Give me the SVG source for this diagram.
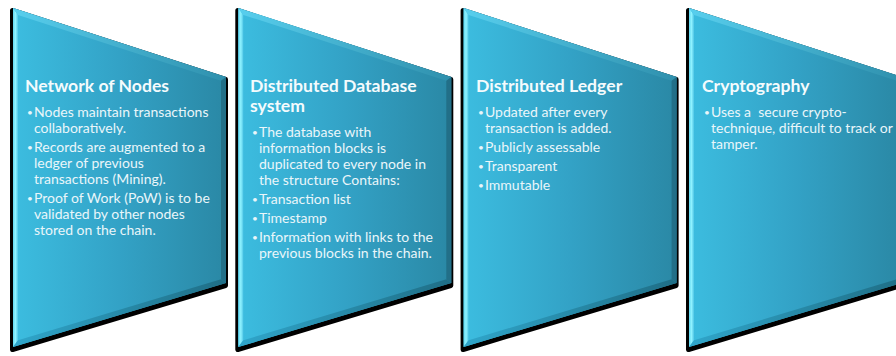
<svg xmlns="http://www.w3.org/2000/svg" xmlns:xlink="http://www.w3.org/1999/xlink" width="896" height="356" viewBox="0 0 896 356">
<defs>
<linearGradient id="face" x1="0" y1="0" x2="1" y2="0">
<stop offset="0" stop-color="#3cbde0"/>
<stop offset="0.5" stop-color="#33a2c6"/>
<stop offset="1" stop-color="#2a88a5"/>
</linearGradient>
<linearGradient id="leftBevel" x1="0" y1="0" x2="1" y2="0">
<stop offset="0" stop-color="#62d8f2"/>
<stop offset="0.5" stop-color="#8ff2ff"/>
<stop offset="1" stop-color="#4fc6e6"/>
</linearGradient>
<linearGradient id="topBevel" x1="0" y1="0" x2="1" y2="0">
<stop offset="0" stop-color="#58cfee"/>
<stop offset="1" stop-color="#2f90ad"/>
</linearGradient>
<linearGradient id="botBevel" x1="0" y1="0" x2="1" y2="0">
<stop offset="0" stop-color="#2fa6cb"/>
<stop offset="1" stop-color="#1f6e86"/>
</linearGradient>
<filter id="soft" x="-5%" y="-5%" width="110%" height="110%">
<feGaussianBlur stdDeviation="0.7"/>
</filter>
<g id="shape">
<polygon points="0,0 213,69 213,275 0,339" fill="#000" stroke="#000" stroke-width="5" stroke-linejoin="round" transform="translate(-0.5,2.5)" filter="url(#soft)"/>
<polygon points="0,0 213,69 213,275 0,339" fill="url(#face)"/>
<polygon points="0,0 5,6.9 5,332.3 0,339" fill="url(#leftBevel)"/>
<polygon points="0,0 213,69 208,72.7 5,6.9" fill="url(#topBevel)"/>
<polygon points="213,69 213,275 208,271.3 208,72.7" fill="#226f88"/>
<polygon points="0,339 5,332.3 208,271.3 213,275" fill="url(#botBevel)"/>
</g>
</defs>
<style>
.t{font-family:Lato,"Liberation Sans",sans-serif;font-weight:bold;font-size:17.6px;fill:#f4fbfd}
.b{font-family:Lato,"Liberation Sans",sans-serif;font-size:14px;fill:#eaf6fa;white-space:pre}
.d{font-family:Lato,"Liberation Sans",sans-serif;font-size:10px;fill:#eaf6fa}
</style>
<g id="connectors"></g>
<g id="node-network">
<use xlink:href="#shape" href="#shape" transform="translate(13,8)"/>
<text class="t" x="25" y="92">Network of Nodes</text>
<text class="d" x="27" y="116">•</text>
<text class="b" x="34" y="117">Nodes maintain transactions</text>
<text class="b" x="34" y="133">collaboratively.</text>
<text class="d" x="27" y="151">•</text>
<text class="b" x="34" y="152">Records are augmented to a</text>
<text class="b" x="34" y="168">ledger of previous</text>
<text class="b" x="34" y="184">transactions (Mining).</text>
<text class="d" x="27" y="202">•</text>
<text class="b" x="34" y="203">Proof of Work (PoW) is to be</text>
<text class="b" x="34" y="219">validated by other nodes</text>
<text class="b" x="34" y="235">stored on the chain.</text>
</g>
<g id="node-database">
<use xlink:href="#shape" href="#shape" transform="translate(238.3,8)"/>
<text class="t" x="250" y="92">Distributed Database</text>
<text class="t" x="250" y="112">system</text>
<text class="d" x="252" y="136">•</text>
<text class="b" x="259" y="137">The database with</text>
<text class="b" x="259" y="153">information blocks is</text>
<text class="b" x="259" y="169">duplicated to every node in</text>
<text class="b" x="259" y="185">the structure Contains:</text>
<text class="d" x="252" y="203">•</text>
<text class="b" x="259" y="204">Transaction list</text>
<text class="d" x="252" y="222">•</text>
<text class="b" x="259" y="223">Timestamp</text>
<text class="d" x="252" y="241">•</text>
<text class="b" x="259" y="242">Information with links to the</text>
<text class="b" x="259" y="258">previous blocks in the chain.</text>
</g>
<g id="node-ledger">
<use xlink:href="#shape" href="#shape" transform="translate(463.6,8)"/>
<text class="t" x="476" y="92">Distributed Ledger</text>
<text class="d" x="478" y="116">•</text>
<text class="b" x="485" y="117">Updated after every</text>
<text class="b" x="485" y="133">transaction is added.</text>
<text class="d" x="478" y="151">•</text>
<text class="b" x="485" y="152">Publicly assessable</text>
<text class="d" x="478" y="170">•</text>
<text class="b" x="485" y="171">Transparent</text>
<text class="d" x="478" y="189">•</text>
<text class="b" x="485" y="190">Immutable</text>
</g>
<g id="node-crypto">
<use xlink:href="#shape" href="#shape" transform="translate(689,8)"/>
<text class="t" x="702" y="92">Cryptography</text>
<text class="d" x="704" y="116">•</text>
<text class="b" x="711" y="117">Uses a  secure crypto-</text>
<text class="b" x="711" y="133">technique, difficult to track or</text>
<text class="b" x="711" y="149">tamper.</text>
</g>
</svg>
